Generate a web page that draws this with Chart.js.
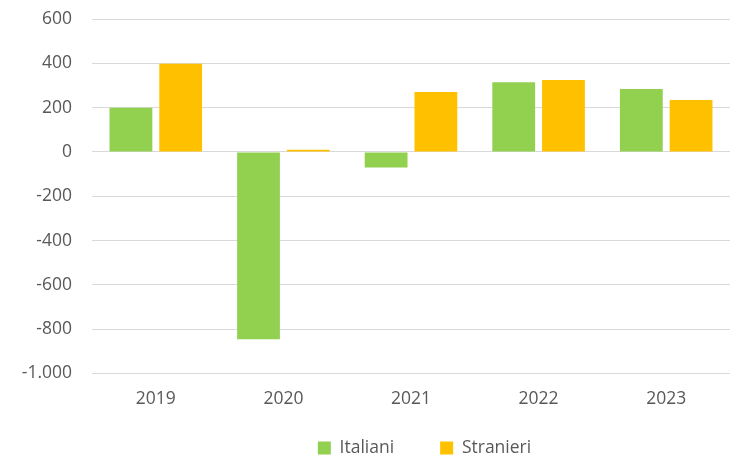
<!DOCTYPE html>
<html>
<head>
<meta charset="utf-8">
<script src="https://cdn.jsdelivr.net/npm/chart.js@4"></script>
<style>
  html, body { margin: 0; padding: 0; background: #fff; }
  #chart { display: block; }
</style>
</head>
<body>
<canvas id="chart" width="731" height="457"></canvas>
<script>
const years = ['2019', '2020', '2021', '2022', '2023'];
const italiani = [200, -845, -70, 314, 284];
const stranieri = [398, 10, 271, 325, 234];

const textColor = '#595959';
const fontFamily = "'Open Sans', sans-serif";
const fontSize = 17.5;
const legendGap = 46;

// the legend sits under the plot area (Excel style), slightly lower than Chart.js puts it
const legendUnderPlot = {
    id: 'legendUnderPlot',
    afterLayout(chart) {
        const lg = chart.legend;
        lg.left = 92;
        lg.right = 757;
        lg.height = fontSize + legendGap + 10;
        lg.top = 448 - legendGap - fontSize / 2;
        lg.bottom = lg.top + lg.height;
    }
};

const ctx = document.getElementById('chart').getContext('2d');

new Chart(ctx, {
    type: 'bar',
    data: {
        labels: years,
        datasets: [
            {
                label: 'Italiani',
                data: italiani,
                backgroundColor: '#92d050',
                barPercentage: 0.86,
                categoryPercentage: 0.78
            },
            {
                label: 'Stranieri',
                data: stranieri,
                backgroundColor: '#ffc000',
                barPercentage: 0.86,
                categoryPercentage: 0.78
            }
        ]
    },
    plugins: [legendUnderPlot],
    options: {
        responsive: false,
        animation: false,
        layout: { padding: { top: 19, right: 1, bottom: 0, left: 0 } },
        plugins: {
            tooltip: { enabled: false },
            legend: {
                position: 'bottom',
                maxHeight: 31.5,
                labels: {
                    boxWidth: 13,
                    boxHeight: 13,
                    padding: legendGap,
                    color: textColor,
                    font: { family: fontFamily, size: fontSize }
                }
            }
        },
        scales: {
            x: {
                grid: { display: false, drawTicks: false },
                border: { display: false },
                ticks: {
                    color: textColor,
                    padding: 15.5,
                    font: { family: fontFamily, size: fontSize }
                }
            },
            y: {
                min: -1000,
                max: 600,
                afterFit: (scale) => {
                    scale.width = 92;
                    scale.paddingTop = 0;
                    scale.paddingBottom = 0;
                },
                grid: { color: '#d9d9d9', lineWidth: 1, drawTicks: false },
                border: { display: false },
                ticks: {
                    stepSize: 200,
                    color: textColor,
                    padding: 20,
                    font: { family: fontFamily, size: fontSize },
                    callback: (v) => v.toLocaleString('it-IT')
                }
            }
        }
    }
});
</script>
</body>
</html>
